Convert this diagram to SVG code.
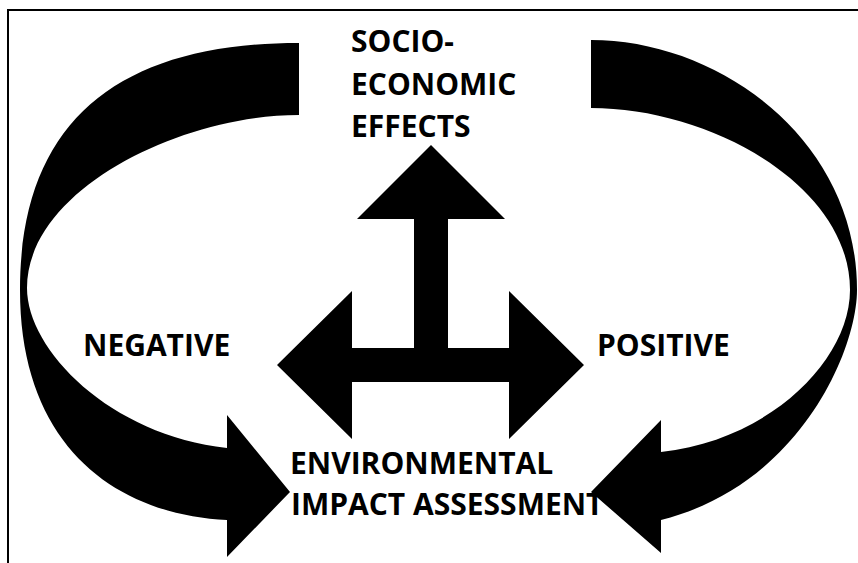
<svg xmlns="http://www.w3.org/2000/svg" width="858" height="563" viewBox="0 0 858 563">
<style>
.lbl{font-family:"Open Sans","Liberation Sans",sans-serif;font-weight:700;font-size:30px;fill:#000}
.shape{fill:#000;stroke:none}
.frame{stroke:#000;stroke-width:2;fill:none}
</style>
<rect width="858" height="563" fill="#fff"/>
<path class="frame" d="M8,570 L8,10 L860,10"/>
<g id="label-socio">
<text class="lbl" x="351" y="52">SOCIO-</text>
<text class="lbl" x="351" y="95">ECONOMIC</text>
<text class="lbl" x="351" y="137">EFFECTS</text>
</g>
<g id="label-negative"><text class="lbl" x="83" y="356">NEGATIVE</text></g>
<g id="label-positive"><text class="lbl" x="597" y="356">POSITIVE</text></g>
<g id="label-eia">
<text class="lbl" x="290" y="474">ENVIRONMENTAL</text>
<text class="lbl" x="291" y="515">IMPACT ASSESSMENT</text>
</g>
<g id="connectors">
<path id="tri-arrow" class="shape" d="M431,145 L505,219 L448,219 L448,348 L509,348 L509,291 L584,365 L509,439 L509,382 L352,382 L352,439 L277,365 L352,291 L352,348 L414,348 L414,219 L357,219 Z"/>
<path id="neg-arrow" class="shape" d="M299,43 C120,43 20,120 20,290 C20,450 120,515 227,520 L227,557 L290,492 L227,415 L227,448 C110,435 27,350 27,288 C27,190 180,115 299,115 Z"/>
<path id="pos-arrow" class="shape" d="M591,40 C720,40 857,140 857,290 C857,350 800,485 661,520 L661,553 L591,492 L661,420 L661,452 C770,440 850,360 850,290 C850,185 710,108 591,108 Z"/>
</g>
</svg>
